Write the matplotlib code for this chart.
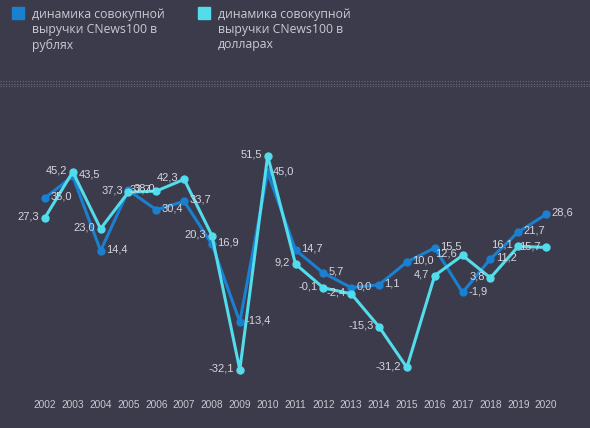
import matplotlib.pyplot as plt
from matplotlib.patches import Rectangle

years = list(range(2002, 2021))
rub = [35.0, 43.5, 14.4, 38.0, 30.4, 33.7, 16.9, -13.4, 45.0, 14.7,
       5.7, 0.0, 1.1, 10.0, 15.5, -1.9, 11.2, 21.7, 28.6]
usd = [27.3, 45.2, 23.0, 37.3, 37.7, 42.3, 20.3, -32.1, 51.5, 9.2,
       -0.1, -2.4, -15.3, -31.2, 4.7, 12.6, 3.8, 16.1, 15.7]
names = ['динамика совокупной\nвыручки CNews100 в\nрублях',
         'динамика совокупной\nвыручки CNews100 в\nдолларах']

bg = '#3c3b4b'
c_rub = '#1a80d0'
c_usd = '#52dcec'
txt = '#d6d6de'

W, H = 590, 428
fig = plt.figure(figsize=(W / 100, H / 100), dpi=100, facecolor=bg)
ax = fig.add_axes([31 / W, (H - 390) / H, 529 / W, 256 / H])
ax.set_facecolor(bg)

ax.plot(years, rub, color=c_rub, lw=2.2, marker='o', ms=5, zorder=3)
ax.plot(years, usd, color=c_usd, lw=2.2, marker='o', ms=5, zorder=4)

def fmt(v):
    return f'{v:.1f}'.replace('.', ',')

for x, v in zip(years, rub):
    ax.annotate(fmt(v), (x, v), xytext=(4, 1), textcoords='offset points',
                ha='left', va='center', color=txt, fontsize=8,
                family='Liberation Sans', zorder=5)
for x, v in zip(years, usd):
    ax.annotate(fmt(v), (x, v), xytext=(-4, 1), textcoords='offset points',
                ha='right', va='center', color=txt, fontsize=8,
                family='Liberation Sans', zorder=5)

ax.set_xlim(2001.5, 2020.5)
ax.set_ylim(-40, 60)
ax.set_xticks(years)
ax.set_xticklabels([str(y) for y in years], color='#c8c8d0', fontsize=7.3,
                   family='Liberation Sans')
ax.tick_params(axis='x', length=0, pad=7)
ax.set_yticks([])
for s in ax.spines.values():
    s.set_visible(False)

# legend
for i, (name, c) in enumerate(zip(names, [c_rub, c_usd])):
    x0 = [12, 198][i]
    fig.patches.append(Rectangle((x0 / W, 1 - 19 / H), 12 / W, 12 / H,
                                 transform=fig.transFigure, color=c))
    fig.text((x0 + 20) / W, 1 - 8 / H, name, color='#cacad2', fontsize=8.8,
             family='Open Sans', va='top', ha='left', linespacing=1.22)

# dotted separator band
for yy in [81, 83.5, 86]:
    fig.add_artist(plt.Line2D([0, 1], [1 - yy / H] * 2, transform=fig.transFigure,
                              color='#6c6b7c', lw=0.8, ls=(0, (1, 1.5))))

fig.savefig('out.png', dpi=100, facecolor=bg)
